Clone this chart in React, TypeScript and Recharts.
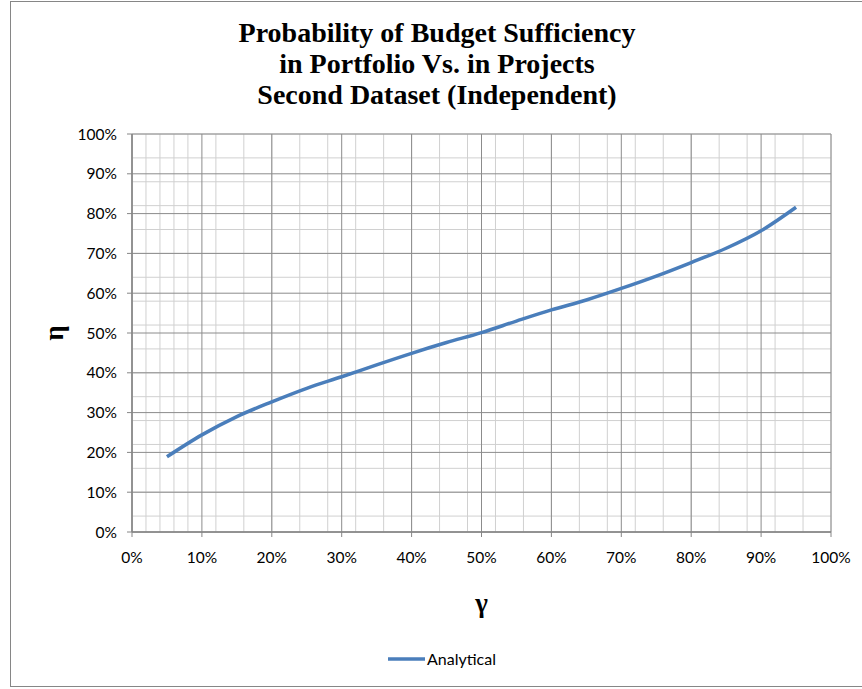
import React from 'react';
import { LineChart, Line, XAxis, YAxis, CartesianGrid } from 'recharts';

// γ (x) and η (y) values, in percent
const gammaValues = [5, 10, 15, 20, 25, 30, 35, 40, 45, 50, 55, 60, 65, 70, 75, 80, 85, 90, 95];
const etaValues = [18.9, 24.4, 29.0, 32.7, 36.1, 39.0, 42.0, 44.9, 47.6, 50.1, 53.0, 55.8, 58.3, 61.2, 64.3, 67.7, 71.3, 75.7, 81.6];

const majorTicks = [0, 10, 20, 30, 40, 50, 60, 70, 80, 90, 100];
const minorTicks = [
    0, 2, 4, 6, 8, 10, 12, 14, 16, 18, 20, 22, 24, 26, 28, 30, 32, 34, 36, 38, 40, 42, 44, 46, 48, 50,
    52, 54, 56, 58, 60, 62, 64, 66, 68, 70, 72, 74, 76, 78, 80, 82, 84, 86, 88, 90, 92, 94, 96, 98, 100,
];

const titleLines = ['Probability of Budget Sufficiency', 'in Portfolio Vs. in Projects', 'Second Dataset (Independent)'];
const seriesName = 'Analytical';

const LINE_COLOR = '#4a7ebb';
const MAJOR_GRID = '#8c8c8c';
const MINOR_GRID = '#d0d0d0';
const AXIS_COLOR = '#868686';
const W = 862;
const H = 689;

const pct = (v: number) => `${v}%`;

const tickStyle = { fontFamily: 'Lato', fontSize: 15.5, fill: '#000' };

export default function App() {
    const data = gammaValues.map((g, i) => ({ gamma: g, eta: etaValues[i] }));

    return (
        <div style={{ position: 'absolute', left: 0, top: 0, width: W, height: H, background: '#fff', overflow: 'hidden' }}>
            {/* chart frame */}
            <div
                style={{
                    position: 'absolute', left: 10, top: 1, width: W - 10, height: 686,
                    borderLeft: '1px solid #868686', borderTop: '1px solid #868686', borderBottom: '1px solid #868686',
                    boxSizing: 'border-box',
                }}
            />
            <div style={{ position: 'absolute', left: 0, top: 0 }}>
                <LineChart width={W} height={H} data={data} margin={{ top: 134, right: 31, bottom: 0, left: 0 }}>
                    <XAxis xAxisId="minor" dataKey="gamma" type="number" domain={[0, 100]} ticks={minorTicks} allowDataOverflow hide />
                    <YAxis yAxisId="minor" dataKey="eta" type="number" domain={[0, 100]} ticks={minorTicks} allowDataOverflow hide />
                    <Line
                        xAxisId="minor"
                        yAxisId="minor"
                        dataKey="eta"
                        stroke="none"
                        dot={false}
                        activeDot={false}
                        legendType="none"
                        isAnimationActive={false}
                    />
                    <CartesianGrid xAxisId="minor" yAxisId="minor" stroke={MINOR_GRID} strokeWidth={1} />
                    <CartesianGrid stroke={MAJOR_GRID} strokeWidth={1} />
                    <XAxis
                        dataKey="gamma"
                        type="number"
                        domain={[0, 100]}
                        ticks={majorTicks}
                        tickFormatter={pct}
                        height={157}
                        tick={tickStyle}
                        tickSize={5}
                        tickMargin={15}
                        axisLine={{ stroke: AXIS_COLOR, strokeWidth: 1.5 }}
                        tickLine={{ stroke: AXIS_COLOR }}
                        label={{
                            content: ({ viewBox }: any) => (
                                <text
                                    x={viewBox.x + viewBox.width / 2}
                                    y={viewBox.y + 80}
                                    textAnchor="middle"
                                    fontFamily="Liberation Serif"
                                    fontWeight="bold"
                                    fontSize={27}
                                >
                                    γ
                                </text>
                            ),
                        }}
                    />
                    <YAxis
                        type="number"
                        domain={[0, 100]}
                        ticks={majorTicks}
                        tickFormatter={pct}
                        width={132}
                        tick={tickStyle}
                        tickSize={5}
                        tickMargin={10}
                        axisLine={{ stroke: AXIS_COLOR, strokeWidth: 1.5 }}
                        tickLine={{ stroke: AXIS_COLOR }}
                        label={{
                            content: ({ viewBox }: any) => {
                                const cx = 54;
                                const cy = viewBox.y + viewBox.height / 2;
                                return (
                                    <text
                                        x={cx}
                                        y={cy}
                                        transform={`rotate(-90, ${cx}, ${cy})`}
                                        textAnchor="middle"
                                        dominantBaseline="central"
                                        fontFamily="Liberation Serif"
                                        fontWeight="bold"
                                        fontSize={27}
                                    >
                                        η
                                    </text>
                                );
                            },
                        }}
                    />
                    <Line
                        type="monotone"
                        dataKey="eta"
                        name={seriesName}
                        stroke={LINE_COLOR}
                        strokeWidth={3.5}
                        dot={false}
                        isAnimationActive={false}
                    />
                </LineChart>
            </div>
            {/* title and legend */}
            <svg width={W} height={H} style={{ position: 'absolute', left: 0, top: 0, pointerEvents: 'none' }}>
                {titleLines.map((t, i) => (
                    <text
                        key={t}
                        x={437}
                        y={42 + i * 31}
                        textAnchor="middle"
                        fontFamily="Liberation Serif"
                        fontWeight="bold"
                        fontSize={28}
                    >
                        {t}
                    </text>
                ))}
                <line x1={388} x2={425} y1={659} y2={659} stroke={LINE_COLOR} strokeWidth={3.5} />
                <text x={427} y={664.5} fontFamily="Lato" fontSize={16} fill="#000">
                    {seriesName}
                </text>
            </svg>
        </div>
    );
}
